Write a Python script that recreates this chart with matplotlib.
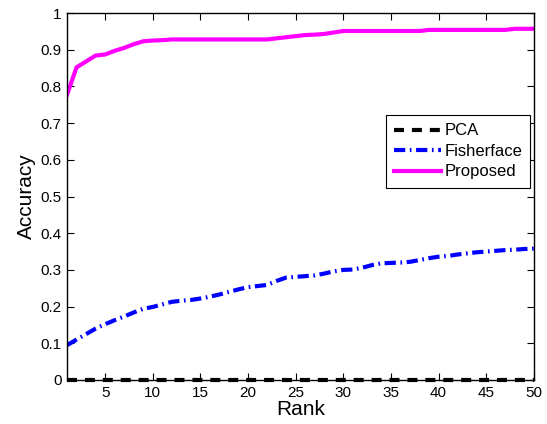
import matplotlib
matplotlib.use("Agg")
import matplotlib.pyplot as plt
import numpy as np

plt.rcParams['font.family'] = ['Liberation Sans', 'DejaVu Sans']

rank = list(range(1, 51))
pca = [0.0] * 50
fisherface = [0.095, 0.110, 0.125, 0.140, 0.152, 0.163, 0.173, 0.184, 0.194, 0.199,
              0.206, 0.213, 0.216, 0.218, 0.222, 0.227, 0.233, 0.240, 0.247, 0.253,
              0.256, 0.259, 0.270, 0.279, 0.281, 0.283, 0.285, 0.290, 0.296, 0.300,
              0.301, 0.306, 0.313, 0.318, 0.319, 0.320, 0.322, 0.327, 0.332, 0.336,
              0.338, 0.342, 0.345, 0.348, 0.350, 0.352, 0.354, 0.355, 0.357, 0.358]
proposed = [0.777, 0.852, 0.868, 0.884, 0.887, 0.897, 0.905, 0.915, 0.923, 0.925,
            0.926, 0.928, 0.928, 0.928, 0.928, 0.928, 0.928, 0.928, 0.928, 0.928,
            0.928, 0.928, 0.931, 0.934, 0.937, 0.940, 0.941, 0.943, 0.947, 0.951,
            0.951, 0.951, 0.951, 0.951, 0.951, 0.951, 0.951, 0.951, 0.954, 0.954,
            0.954, 0.954, 0.954, 0.954, 0.954, 0.954, 0.954, 0.957, 0.957, 0.957]

fig = plt.figure(figsize=(5.47, 4.24), dpi=100)
ax = fig.add_axes([0.1225, 0.1038, 0.8535, 0.8655])

ax.plot(rank, pca, color='black', linestyle=(0, (2.4, 1.9)), linewidth=3, label='PCA', clip_on=False, zorder=3)
ax.plot(rank, fisherface, color='#0000ff', linestyle=(0, (2.7, 1.1, 0.4, 1.1)), linewidth=3, label='Fisherface')
ax.plot(rank, proposed, color='#ff00ff', linestyle='-', linewidth=3, label='Proposed')

ax.set_xlim(1, 50)
ax.set_ylim(0, 1)
ax.set_xticks([5, 10, 15, 20, 25, 30, 35, 40, 45, 50])
yt = [0, 0.1, 0.2, 0.3, 0.4, 0.5, 0.6, 0.7, 0.8, 0.9, 1]
ax.set_yticks(yt)
ax.set_yticklabels(['0', '0.1', '0.2', '0.3', '0.4', '0.5', '0.6', '0.7', '0.8', '0.9', '1'])
ax.tick_params(direction='in', top=True, right=True, length=5, width=0.8, labelsize=11, pad=4)
for s in ax.spines.values():
    s.set_linewidth(1.0)

ax.set_xlabel('Rank', fontsize=15, labelpad=0)
ax.set_ylabel('Accuracy', fontsize=15, labelpad=3)

leg = ax.legend(loc='upper left', bbox_to_anchor=(0.683, 0.722), fontsize=12,
                fancybox=False, framealpha=1, edgecolor='black', handlelength=2.8,
                borderpad=0.5, labelspacing=0.33, handletextpad=0.2, borderaxespad=0)
leg.get_frame().set_linewidth(0.8)

fig.savefig('out.png', dpi=100)
